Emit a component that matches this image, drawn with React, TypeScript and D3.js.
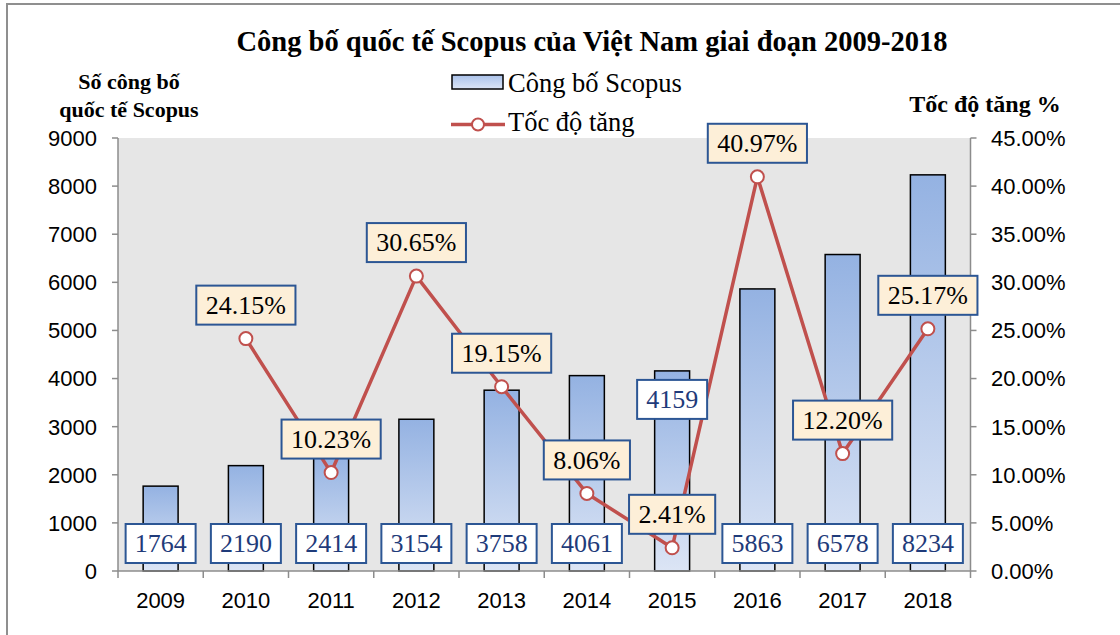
import React from "react";
import * as d3 from "d3";

const title = "Công bố quốc tế Scopus của Việt Nam giai đoạn 2009-2018";
const leftAxisTitle = ["Số công bố", "quốc tế Scopus"];
const rightAxisTitle = "Tốc độ tăng %";
const barSeriesName = "Công bố Scopus";
const lineSeriesName = "Tốc độ tăng";

const years = ["2009", "2010", "2011", "2012", "2013", "2014", "2015", "2016", "2017", "2018"];
const publications = [1764, 2190, 2414, 3154, 3758, 4061, 4159, 5863, 6578, 8234];
const growthRates: (number | null)[] = [null, 24.15, 10.23, 30.65, 19.15, 8.06, 2.41, 40.97, 12.2, 25.17];
const leftTicks = [0, 1000, 2000, 3000, 4000, 5000, 6000, 7000, 8000, 9000];
const rightTicks = [0, 5, 10, 15, 20, 25, 30, 35, 40, 45];
const barLabelsAtTop = ["2015"];

const W = 1120;
const H = 635;
const plot = { left: 118, right: 970.5, top: 138, bottom: 571 };

const SERIF = "'Liberation Serif', 'Times New Roman', serif";
const SANS = "'Liberation Sans', Arial, sans-serif";

function textWidth(s: string, size: number) {
  let w = 0;
  for (const c of s) {
    if (c === ".") w += 0.25;
    else if (c === "%") w += 0.833;
    else w += 0.5;
  }
  return w * size;
}

export default function App() {
  const x = d3.scaleBand<string>().domain(years).range([plot.left, plot.right]).padding(0);
  const yL = d3.scaleLinear().domain([0, 9000]).range([plot.bottom, plot.top]);
  const yR = d3.scaleLinear().domain([0, 45]).range([plot.bottom, plot.top]);
  const bw = x.bandwidth();
  const barW = bw * 0.41;
  const cx = (y: string) => (x(y) as number) + bw / 2;

  const line = d3
    .line<number | null>()
    .defined((d) => d !== null)
    .x((_, i) => cx(years[i]))
    .y((d) => yR(d as number));

  const lblSize = 26;
  const boxH = 39;
  const tickSize = 22;

  return (
    <svg width={W} height={H} style={{ position: "absolute", left: 0, top: 0, background: "#fff" }}>
      <defs>
        <linearGradient id="barGrad" x1="0" y1="0" x2="0" y2="1">
          <stop offset="0" stopColor="#94b2e2" />
          <stop offset="1" stopColor="#dce5f5" />
        </linearGradient>
        <linearGradient id="legGrad" x1="0" y1="0" x2="0" y2="1">
          <stop offset="0" stopColor="#aac2ea" />
          <stop offset="1" stopColor="#dce5f5" />
        </linearGradient>
      </defs>
      <rect x={7} y={4} width={1200} height={700} fill="#fff" stroke="#8f8f8f" strokeWidth={2} />

      {/* title */}
      <text x={592} y={51} textAnchor="middle" fontFamily={SERIF} fontWeight="bold" fontSize={28.5} fill="#000">
        {title}
      </text>

      {/* axis titles */}
      {leftAxisTitle.map((t, i) => (
        <text key={t} x={129} y={89 + i * 28} textAnchor="middle" fontFamily={SERIF} fontWeight="bold" fontSize={22} fill="#000">
          {t}
        </text>
      ))}
      <text x={985} y={112} textAnchor="middle" fontFamily={SERIF} fontWeight="bold" fontSize={24} fill="#000">
        {rightAxisTitle}
      </text>

      {/* legend */}
      <rect x={452} y={75} width={51} height={14} fill="url(#legGrad)" stroke="#000" strokeWidth={1.5} />
      <text x={508} y={92} fontFamily={SERIF} fontSize={26.5} fill="#000">
        {barSeriesName}
      </text>
      <line x1={451} x2={505} y1={124.5} y2={124.5} stroke="#c0504d" strokeWidth={3.5} />
      <circle cx={478} cy={124.5} r={6} fill="#fff" stroke="#c0504d" strokeWidth={2} />
      <text x={508} y={131} fontFamily={SERIF} fontSize={26.5} fill="#000">
        {lineSeriesName}
      </text>

      {/* plot background */}
      <rect x={plot.left} y={plot.top} width={plot.right - plot.left} height={plot.bottom - plot.top} fill="#e6e6e6" />

      {/* bars */}
      {years.map((yr, i) => (
        <rect
          key={yr}
          x={cx(yr) - barW / 2}
          y={yL(publications[i])}
          width={barW}
          height={plot.bottom - yL(publications[i])}
          fill="url(#barGrad)"
          stroke="#000"
          strokeWidth={1.5}
        />
      ))}

      {/* axes */}
      <line x1={plot.left} x2={plot.left} y1={plot.top} y2={plot.bottom} stroke="#8c8c8c" strokeWidth={1.5} />
      <line x1={plot.right} x2={plot.right} y1={plot.top} y2={plot.bottom} stroke="#8c8c8c" strokeWidth={1.5} />
      <line x1={plot.left} x2={plot.right} y1={plot.bottom} y2={plot.bottom} stroke="#8c8c8c" strokeWidth={1.5} />
      {leftTicks.map((t) => (
        <g key={"l" + t}>
          <line x1={plot.left - 6} x2={plot.left} y1={yL(t)} y2={yL(t)} stroke="#8c8c8c" strokeWidth={1.5} />
          <text x={97} y={yL(t)} dy="0.36em" textAnchor="end" fontFamily={SANS} fontSize={tickSize} fill="#000">
            {t}
          </text>
        </g>
      ))}
      {rightTicks.map((t) => (
        <g key={"r" + t}>
          <line x1={plot.right} x2={plot.right + 6} y1={yR(t)} y2={yR(t)} stroke="#8c8c8c" strokeWidth={1.5} />
          <text x={991} y={yR(t)} dy="0.36em" textAnchor="start" fontFamily={SANS} fontSize={tickSize} fill="#000">
            {t.toFixed(2) + "%"}
          </text>
        </g>
      ))}
      {[...years.map((yr) => x(yr) as number), plot.right].map((v, i) => (
        <line key={"xt" + i} x1={v} x2={v} y1={plot.bottom} y2={plot.bottom + 7} stroke="#8c8c8c" strokeWidth={1.5} />
      ))}
      {years.map((yr) => (
        <text key={"xl" + yr} x={cx(yr)} y={608} textAnchor="middle" fontFamily={SANS} fontSize={tickSize} fill="#000">
          {yr}
        </text>
      ))}

      {/* line */}
      <path d={line(growthRates) || ""} fill="none" stroke="#c0504d" strokeWidth={3.5} strokeLinejoin="round" />
      {growthRates.map((g, i) =>
        g === null ? null : (
          <circle key={"m" + i} cx={cx(years[i])} cy={yR(g)} r={6.5} fill="#fff" stroke="#c0504d" strokeWidth={2} />
        )
      )}

      {/* bar labels */}
      {years.map((yr, i) => {
        const s = String(publications[i]);
        const bwid = textWidth(s, lblSize) + 18;
        const top = barLabelsAtTop.includes(yr) ? yL(publications[i]) + 9 : plot.bottom - 8 - boxH;
        return (
          <g key={"bl" + yr}>
            <rect x={cx(yr) - bwid / 2} y={top} width={bwid} height={boxH} fill="#fff" stroke="#2c5694" strokeWidth={2} />
            <text x={cx(yr)} y={top + boxH / 2} dy="0.34em" textAnchor="middle" fontFamily={SERIF} fontSize={lblSize} fill="#1f3b7a">
              {s}
            </text>
          </g>
        );
      })}

      {/* line labels */}
      {growthRates.map((g, i) => {
        if (g === null) return null;
        const s = g.toFixed(2) + "%";
        const bwid = textWidth(s, lblSize) + 19;
        const top = yR(g) - 14 - boxH;
        const px = cx(years[i]);
        return (
          <g key={"ll" + i}>
            <rect x={px - bwid / 2} y={top} width={bwid} height={boxH} fill="#fdefd8" stroke="#2c5694" strokeWidth={2} />
            <text x={px} y={top + boxH / 2} dy="0.34em" textAnchor="middle" fontFamily={SERIF} fontSize={lblSize} fill="#000">
              {s}
            </text>
          </g>
        );
      })}
    </svg>
  );
}
